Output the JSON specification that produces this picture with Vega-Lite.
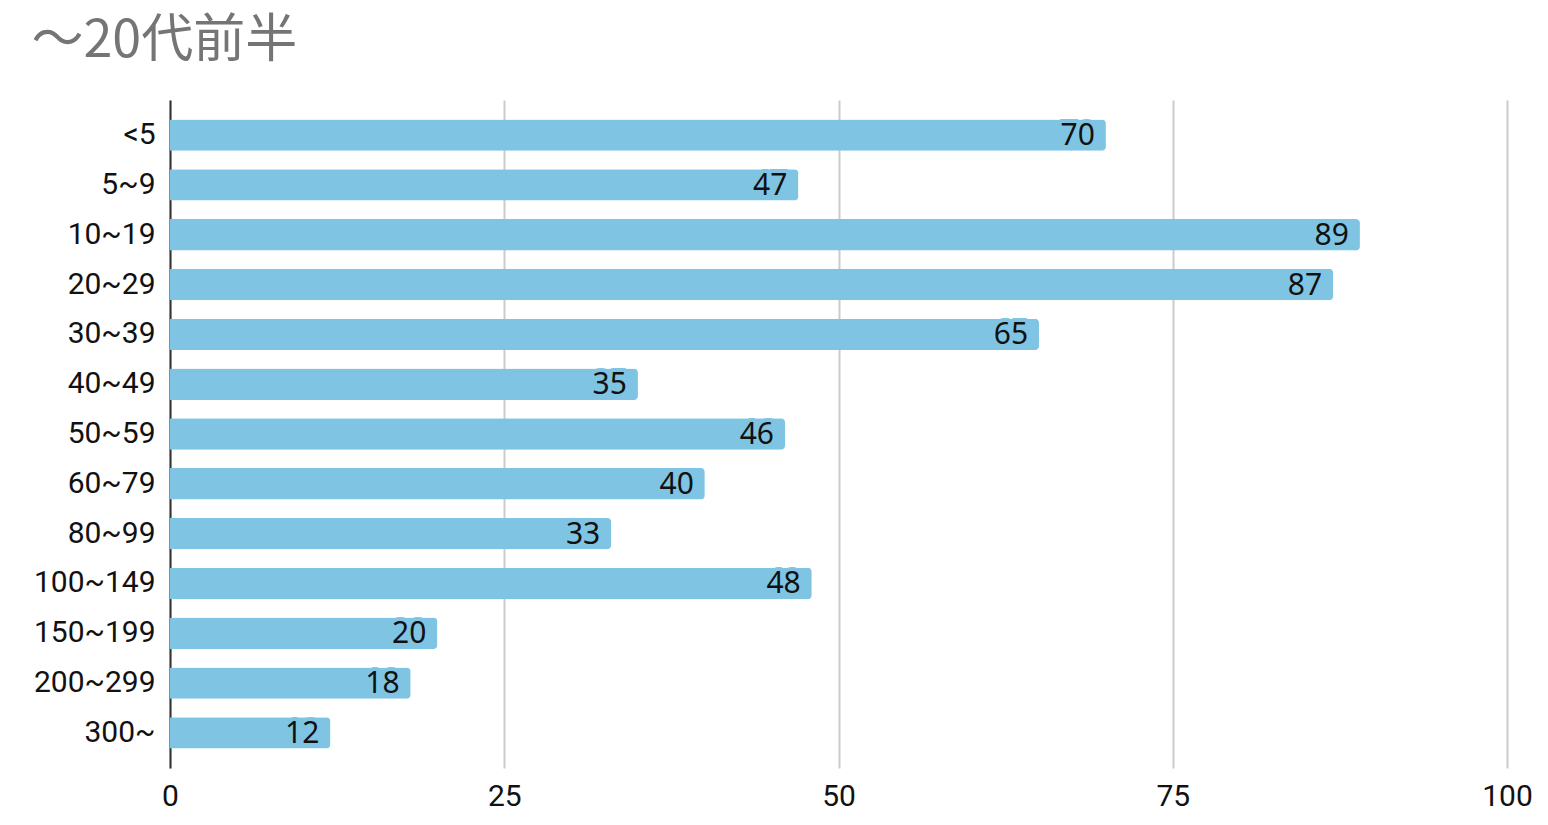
{
  "$schema": "https://vega.github.io/schema/vega-lite/v6.json",
  "autosize": "none",
  "width": 1337,
  "height": 668,
  "padding": {"left": 170, "top": 100, "right": 41, "bottom": 57},
  "background": "white",
  "title": {
    "text": "～20代前半",
    "anchor": "start",
    "frame": "bounds",
    "font": "Noto Sans CJK JP",
    "fontSize": 52,
    "fontWeight": "normal",
    "color": "#757575",
    "offset": 32,
    "dx": -2
  },
  "data": {
    "values": [
      {"range": "<5", "count": 70},
      {"range": "5~9", "count": 47},
      {"range": "10~19", "count": 89},
      {"range": "20~29", "count": 87},
      {"range": "30~39", "count": 65},
      {"range": "40~49", "count": 35},
      {"range": "50~59", "count": 46},
      {"range": "60~79", "count": 40},
      {"range": "80~99", "count": 33},
      {"range": "100~149", "count": 48},
      {"range": "150~199", "count": 20},
      {"range": "200~299", "count": 18},
      {"range": "300~", "count": 12}
    ]
  },
  "encoding": {
    "y": {
      "field": "range",
      "type": "nominal",
      "sort": null,
      "scale": {"paddingInner": 0.37, "paddingOuter": 0.39},
      "axis": {
        "title": null,
        "ticks": false,
        "domainColor": "#333333",
        "domainWidth": 2,
        "labelFont": "Roboto",
        "labelFontSize": 30,
        "labelColor": "#111111",
        "labelPadding": 15,
        "grid": false
      }
    },
    "x": {
      "field": "count",
      "type": "quantitative",
      "scale": {"domain": [0, 100], "nice": false},
      "axis": {
        "title": null,
        "values": [0, 25, 50, 75, 100],
        "ticks": false,
        "domain": false,
        "grid": true,
        "gridColor": "#cccccc",
        "gridWidth": 2,
        "labelFont": "Roboto",
        "labelFontSize": 30,
        "labelColor": "#111111",
        "labelPadding": 13,
        "labelFlush": false
      }
    }
  },
  "layer": [
    {
      "mark": {"type": "bar", "color": "#7FC5E3", "cornerRadiusEnd": 4}
    },
    {
      "mark": {"type": "text", "align": "right", "dx": -11, "dy": 1, "font": "Noto Sans", "fontSize": 30, "fill": "#7FC5E3", "stroke": "#7FC5E3", "strokeWidth": 8, "strokeJoin": "round"},
      "encoding": {"text": {"field": "count", "type": "quantitative"}}
    },
    {
      "mark": {"type": "text", "align": "right", "dx": -11, "dy": 1, "font": "Noto Sans", "fontSize": 30, "color": "#111111"},
      "encoding": {"text": {"field": "count", "type": "quantitative"}}
    }
  ],
  "config": {"view": {"stroke": null}}
}
